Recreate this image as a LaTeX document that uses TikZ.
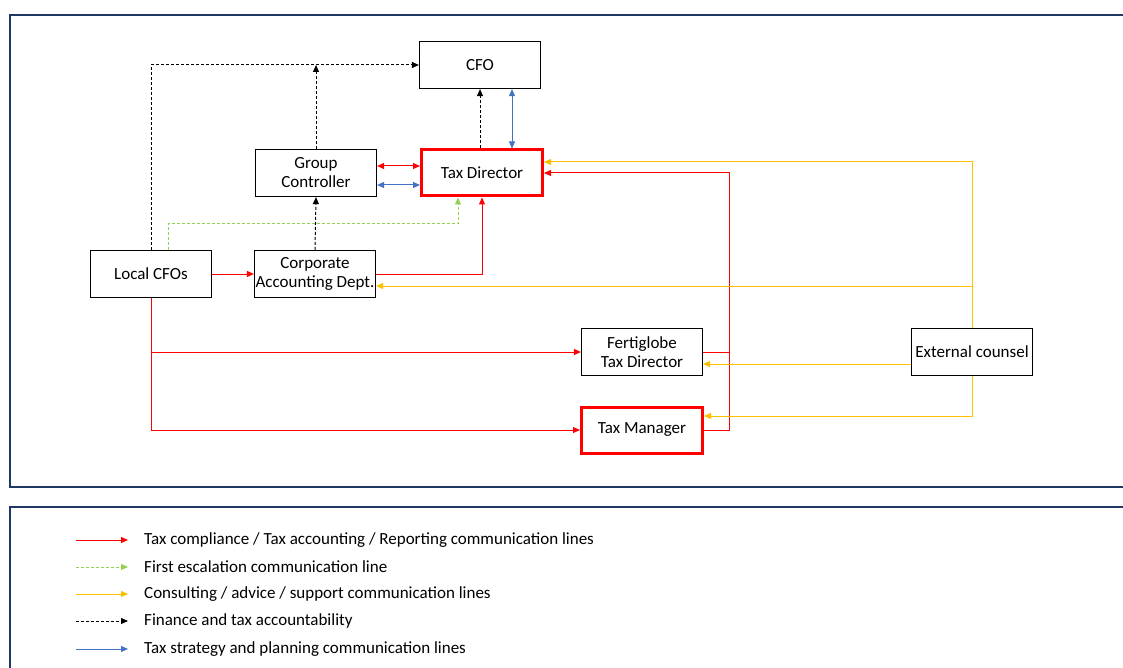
\documentclass[tikz,border=0pt]{standalone}
\usepackage{fontspec}
\setmainfont{Carlito}
\usepackage{xcolor}
\usetikzlibrary{arrows.meta}
\definecolor{navy}{HTML}{1F3864}
\definecolor{compred}{HTML}{FF0000}
\definecolor{escgreen}{HTML}{92D050}
\definecolor{advyellow}{HTML}{FFC000}
\definecolor{planblue}{HTML}{4472C4}
\tikzset{
	box/.style = {draw, line width = 1.2pt, minimum width = 121pt, minimum height = 47pt, inner sep = 0pt, align = center, font = \fontsize{17}{19}\selectfont},
	keybox/.style = {box, draw = compred, line width = 3pt, minimum height = 46pt},
	tip/.style = {-{Triangle[length = 7pt, width = 6pt]}},
	bitip/.style = {{Triangle[length = 7pt, width = 6pt]}-{Triangle[length = 7pt, width = 6pt]}},
	comp/.style = {tip, compred, line width = 1pt},
	esc/.style = {tip, escgreen, line width = 1pt, dash pattern = on 3pt off 2pt},
	adv/.style = {tip, advyellow, line width = 1pt},
	acc/.style = {tip, black, line width = 1pt, dash pattern = on 3pt off 2pt},
	plan/.style = {tip, planblue, line width = 1pt}
}
\begin{document}
\begin{tikzpicture}[x = 1pt, y = -1pt]
		\useasboundingbox (0,0) rectangle (1123,668);
		\draw[navy, line width = 1.5pt] (1123,15) -- (10,15) -- (10,487) -- (1123,487);
		\draw[navy, line width = 1.5pt] (1123,507) -- (10,507) -- (10,668);
		\node[box] (cfo) at (480,65) {CFO};
		\node[box] (gc) at (316,173) {Group\\Controller};
		\node[keybox] (td) at (482,173) {Tax Director};
		\node[box] (lcfo) at (151,274) {Local CFOs};
		\node[box] (cad) at (315,274) {Corporate\\Accounting Dept.};
		\node[box] (ftd) at (642,352) {Fertiglobe\\Tax Director};
		\node[keybox] (tm) at (642,430) {Tax Manager};
		\node[box] (ec) at (972,352) {External counsel};
		\coordinate (escturn) at (458,224);
		\coordinate (rtturn) at (729,173);
		\draw[acc] (lcfo.north) |- (cfo.west);
		\draw[acc] (gc.north) -- (gc.north |- cfo.west);
		\draw[acc] (cad.north) -- (gc.south);
		\draw[acc] (cfo.south |- td.north) -- (cfo.south);
		\draw[plan, bitip] ([xshift = 32pt]cfo.south) -- ([xshift = 32pt]cfo.south |- td.north);
		\draw[comp, bitip] ([yshift = 7pt]gc.east) -- ([yshift = 7pt]gc.east -| td.west);
		\draw[plan, bitip] ([yshift = -12pt]gc.east) -- ([yshift = -12pt]gc.east -| td.west);
		\draw[esc] ([xshift = 17pt]lcfo.north) |- (escturn) -- (escturn |- td.south);
		\draw[comp] (cad.east) -| (td.south);
		\draw[comp] (lcfo.east) -- (cad.west);
		\draw[comp] (lcfo.south) |- (ftd.west);
		\draw[comp] (lcfo.south) |- (tm.west);
		\draw[compred, line width = 1pt] (tm.east) -| (rtturn |- ftd.east);
		\draw[comp] (ftd.east) -| (rtturn) -- (td.east);
		\draw[adv] (ec.north) |- ([yshift = 11pt]td.east);
		\draw[adv] ([yshift = -12pt]cad.east -| ec.north) -- ([yshift = -12pt]cad.east);
		\draw[adv] ([yshift = -12pt]ec.west) -- ([yshift = -12pt]ec.west -| ftd.east);
		\draw[adv] (ec.south) |- ([yshift = 14pt]tm.east);
		\foreach \y/\s/\t [count = \i] in {540/comp/{Tax compliance / Tax accounting / Reporting communication lines},
			567/esc/{First escalation communication line},
			594/adv/{Consulting / advice / support communication lines},
			621/acc/{Finance and tax accountability},
			649/plan/{Tax strategy and planning communication lines}}{
			\draw[\s] (76,\y) -- (128,\y);
			\node[anchor = west, inner sep = 0pt, font = \fontsize{17}{19}\selectfont] (key\i) at (144,\y) {\t};
		}
	\end{tikzpicture}
\end{document}
